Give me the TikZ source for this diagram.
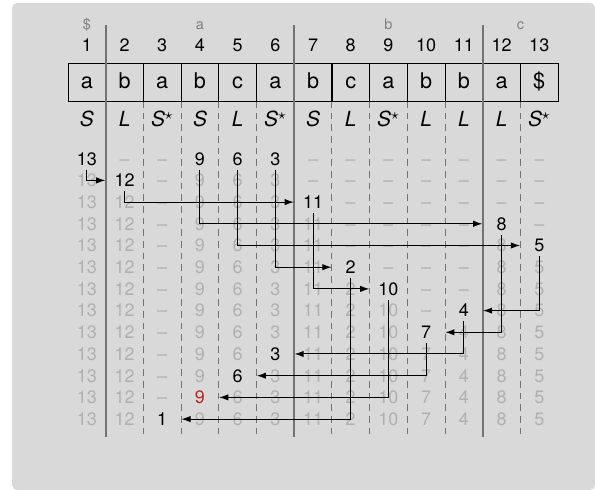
\documentclass[tikz,border=0pt]{standalone}
\usepackage{fontspec}
\setmainfont{TeX Gyre Heros}
\usetikzlibrary{arrows.meta}

\definecolor{panel}{gray}{0.85}
\definecolor{faint}{gray}{0.69}
\definecolor{rule}{gray}{0.45}
\definecolor{darkred}{RGB}{185,35,40}

\tikzset{
  cell/.style={inner xsep=0pt,inner ysep=2.5pt,minimum width=22.6pt,
    text height=7.66pt,text depth=0pt,font=\fontsize{10.8}{13}\selectfont},
  faded/.style={text=faint},
  char/.style={draw,line width=0.5pt,inner sep=0pt,minimum width=22.6pt,
    minimum height=22.8pt,text height=9.4pt,text depth=1pt,
    font=\fontsize{13}{15}\selectfont},
  kind/.style={anchor=base,inner sep=0pt,font=\fontsize{12.5}{14}\selectfont\itshape},
  bucket/.style={anchor=base,inner sep=0pt,text=gray,font=\fontsize{8.7}{10}\selectfont},
  link/.style={line width=0.6pt,-{Latex[length=5.5pt,width=3.8pt]}},
}

\begin{document}
\begin{tikzpicture}[x=0.6pt,y=-0.6pt]
\def\cw{37.7}
\def\rh{21.7}
\def\sstar{S$^{\star}$}
\useasboundingbox (0,0) rectangle (595,490);
\fill[panel,rounded corners=3pt] (12,3) rectangle (595,490);

% bucket heads
\node[bucket] (b-end) at ({68+\cw*0.5},29.5) {\$};
\node[bucket] (b-a) at ({68+\cw*3.5},29.5) {a};
\node[bucket] (b-b) at ({68+\cw*8.5},29.5) {b};
\node[bucket] (b-c) at ({68+\cw*12},29.5) {c};

\foreach \k in {2,3,4,5,7,8,9,10,12}
  \draw[rule,line width=0.5pt,dash pattern=on 4pt off 3pt]
    ({68+\cw*\k},101) -- ({68+\cw*\k},437);

\foreach \c in {1,...,13}
  \node[cell] (i-\c) at ({68+\cw*(\c-0.5)},45.5) {\c};

\foreach \ch [count=\c] in {a,b,a,b,c,a,b,c,a,b,b,a,\$}
  \node[char] (t-\c) at ({68+\cw*(\c-0.5)},82) {\ch};

\foreach \k in {1,6,11}
  \draw[rule,line width=1.2pt] ({68+\cw*\k},25) -- ({68+\cw*\k},437);

\foreach \ty [count=\c] in {S,L,\sstar,S,L,\sstar,S,L,\sstar,L,L,L,\sstar}
  \node[kind] (k-\c) at ({68+\cw*(\c-0.5)},127) {\ty};

% column / row it is written in / row it is written again / value
\foreach \c/\f/\g/\v in {1/0/99/13,2/1/99/12,3/12/99/1,4/0/11/9,5/0/10/6,
    6/0/9/3,7/2/99/11,8/5/99/2,9/6/99/10,10/8/99/7,11/7/99/4,12/3/99/8,13/4/99/5}{
  \foreach \r in {0,...,12}{
    \coordinate (p) at ({68+\cw*(\c-0.5)},{158.7+\rh*\r});
    \ifnum\r<\f
      \node[cell,faded] (n-\r-\c) at (p) {\textendash};
    \else\ifnum\r=\f
      \node[cell] (n-\r-\c) at (p) {\v};
    \else\ifnum\r=\g
      \def\hue{black}\ifnum\c=4 \def\hue{darkred}\fi
      \node[cell,text=\hue] (n-\r-\c) at (p) {\v};
    \else
      \node[cell,faded] (n-\r-\c) at (p) {\v};
    \fi\fi\fi
  }
}

\foreach \a/\b in {0-1/1-2.west,1-2/2-7.west,0-4/3-12.west,0-5/4-13.west,
    0-6/5-8.west,2-7/6-9.west,4-13/7-11.east,3-12/8-10.east,7-11/9-6.east,
    8-10/10-5.east,6-9/11-4.east,5-8/12-3.east}
  \draw[link] (n-\a.south) |- (n-\b);

\end{tikzpicture}
\end{document}
